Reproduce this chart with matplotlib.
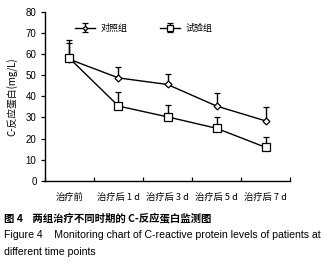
import numpy as np
import matplotlib
matplotlib.use("Agg")
import matplotlib.pyplot as plt

plt.rcParams['font.family'] = ['Liberation Sans', 'Noto Sans CJK SC', 'DejaVu Sans']

categories = ["治疗前", "治疗后 1 d", "治疗后 3 d", "治疗后 5 d", "治疗后 7 d"]
control_mean = [57.5, 48.7, 45.6, 35.4, 28.4]
control_err = [7.5, 5.2, 5.0, 6.0, 6.4]
test_mean = [58.0, 35.4, 30.3, 24.9, 15.9]
test_err = [8.7, 6.7, 5.4, 5.1, 5.0]
yticks = [0, 10, 20, 30, 40, 50, 60, 70, 80]

fig = plt.figure(figsize=(3.35, 2.65), dpi=100)
ax = fig.add_axes([0.134, 0.317, 0.732, 0.639])

x = np.arange(len(categories)) + 0.5
ax.errorbar(x, control_mean, yerr=[np.zeros(5), control_err], color='black', lw=1.0,
            marker='D', ms=3.5, mfc='white', mec='black', mew=0.9,
            elinewidth=1.0, capsize=2, capthick=1.0, label="对照组", zorder=3)
ax.errorbar(x, test_mean, yerr=[np.zeros(5), test_err], color='black', lw=1.0,
            marker='s', ms=6, mfc='white', mec='black', mew=0.9,
            elinewidth=1.0, capsize=2, capthick=1.0, label="试验组", zorder=3)

ax.set_xlim(0, 5)
ax.set_ylim(0, 80)
ax.set_yticks(yticks)
ax.set_xticks(np.arange(0, 6))
ax.set_xticklabels([])
for xi, lab in zip(x, categories):
    ax.text(xi, -5.5, lab, ha='center', va='top', fontsize=6.7,
            family=['Noto Sans CJK SC', 'DejaVu Sans'])
ax.tick_params(axis='y', direction='out', length=3, width=0.9, labelsize=7, pad=3)
ax.tick_params(axis='x', direction='in', length=3, width=0.9)
for s in ['top', 'right']:
    ax.spines[s].set_visible(False)
for s in ['left', 'bottom']:
    ax.spines[s].set_linewidth(1.0)

ax.set_ylabel("C-反应蛋白(mg/L)", fontsize=7, labelpad=5,
              family=['Noto Sans CJK SC', 'DejaVu Sans'])

# legend markers are small in the original
leg = ax.legend(loc='upper left', bbox_to_anchor=(0.09, 0.975), ncol=2, frameon=False,
                handlelength=2.2, columnspacing=3.6, markerscale=0.65, handletextpad=0.6,
                prop={'family': ['Noto Sans CJK SC', 'DejaVu Sans'], 'size': 6.5})

fig.text(0.012, 0.177, "图 4    两组治疗不同时期的 C-反应蛋白监测图", fontsize=7.5,
         fontweight='bold', family=['Noto Sans CJK SC', 'DejaVu Sans'], va='center')
fig.text(0.012, 0.115, "Figure 4    Monitoring chart of C-reactive protein levels of patients at",
         fontsize=7.6, va='center')
fig.text(0.012, 0.05, "different time points", fontsize=7.6, va='center')

fig.savefig("out.png", dpi=100)
